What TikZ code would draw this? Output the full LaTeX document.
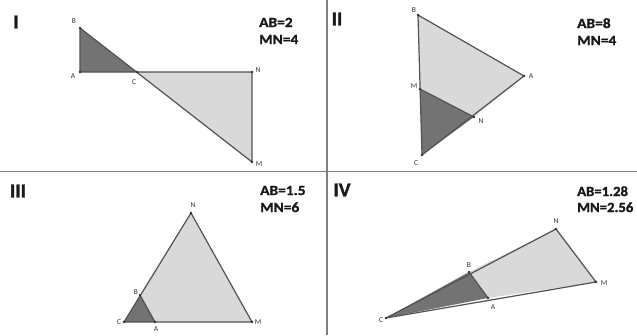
\documentclass[tikz,border=0pt]{standalone}
\usepackage{fontspec}
\setmainfont{Carlito}
\newfontfamily\heavyfont{Carlito Bold}[FakeBold=1.3]
\begin{document}
\begin{tikzpicture}[x=1pt,y=-1pt,
  edge/.style={draw=black!68,line width=1.2pt,line join=round},
  darkfill/.style={fill=black!55},
  lightfill/.style={fill=black!15},
  divider/.style={draw=black!50,line width=1.3pt},
  vlabel/.style={font=\fontsize{7.5}{8}\selectfont,text=black!80,inner sep=0pt},
  dot/.style={circle,fill=black!80,inner sep=0pt,minimum size=2.6pt},
  info/.style={font=\heavyfont\fontsize{14}{16}\selectfont,anchor=base west,inner sep=0pt,text=black!90},
  roman/.style={font=\heavyfont\fontsize{20}{22}\selectfont,inner sep=0pt,text=black!90}]
\useasboundingbox (0,0) rectangle (637,335);
\fill[white] (0,0) rectangle (637,335);
% dividers
\coordinate (vt) at (327,0); \coordinate (vb) at (327,335);
\coordinate (hl) at (0,171.5); \coordinate (hr) at (637,171.5);
\draw[divider] (vt) -- (vb);
\draw[divider] (hl) -- (hr);
% ---------- Panel I ----------
\coordinate (IB) at (80,28); \coordinate (IA) at (80,72); \coordinate (IC) at (137,72);
\coordinate (IN) at (252,72); \coordinate (IM) at (252,162);
\path[darkfill] (IA) -- (IB) -- (IC) -- cycle;
\path[lightfill] (IC) -- (IN) -- (IM) -- cycle;
\draw[edge] (IB) -- (IA) -- (IN) -- (IM) -- cycle;
\foreach \p in {IB,IA,IC,IN,IM} \node[dot] (d\p) at (\p) {};
\node[vlabel] (lIB) at (74,21) {B};
\node[vlabel] (lIA) at (73,76) {A};
\node[vlabel] (lIC) at (134,82) {C};
\node[vlabel] (lIN) at (258,70) {N};
\node[vlabel] (lIM) at (259,164) {M};
\node[roman] (rI) at (16,22) {I};
\node[info] (abI) at (259,27) {\scalebox{1.1}[1]{AB=2}};
\node[info] (mnI) at (259,44) {\scalebox{1.1}[1]{MN=4}};
% ---------- Panel II ----------
\coordinate (IIB) at (418,15); \coordinate (IIA) at (524,76); \coordinate (IIM) at (420,89);
\coordinate (IIN) at (474,117); \coordinate (IIC) at (422,155);
\path[lightfill] (IIB) -- (IIA) -- (IIN) -- (IIM) -- cycle;
\path[darkfill] (IIM) -- (IIN) -- (IIC) -- cycle;
\draw[edge] (IIB) -- (IIA) -- (IIC) -- cycle;
\draw[edge] (IIM) -- (IIN);
\foreach \p in {IIB,IIA,IIM,IIN,IIC} \node[dot] (d\p) at (\p) {};
\node[vlabel] (lIIB) at (414,10) {B};
\node[vlabel] (lIIA) at (531,76) {A};
\node[vlabel] (lIIM) at (414,86) {M};
\node[vlabel] (lIIN) at (481,121) {N};
\node[vlabel] (lIIC) at (416,163) {C};
\node[roman] (rII) at (337,19) {II};
\node[info] (abII) at (577,28) {\scalebox{1.1}[1]{AB=8}};
\node[info] (mnII) at (577,45) {\scalebox{1.1}[1]{MN=4}};
% ---------- Panel III ----------
\coordinate (IIIN) at (191,213); \coordinate (IIIB) at (140,295); \coordinate (IIIC) at (124,322);
\coordinate (IIIA) at (155,322); \coordinate (IIIM) at (252,322);
\path[lightfill] (IIIB) -- (IIIN) -- (IIIM) -- (IIIA) -- cycle;
\path[darkfill] (IIIC) -- (IIIB) -- (IIIA) -- cycle;
\draw[edge] (IIIC) -- (IIIN) -- (IIIM) -- cycle;
\draw[edge] (IIIB) -- (IIIA);
\foreach \p in {IIIN,IIIB,IIIC,IIIA,IIIM} \node[dot] (d\p) at (\p) {};
\node[vlabel] (lIIIN) at (193,205) {N};
\node[vlabel] (lIIIB) at (136,292) {B};
\node[vlabel] (lIIIC) at (119,322) {C};
\node[vlabel] (lIIIA) at (156,329) {A};
\node[vlabel] (lIIIM) at (258,322) {M};
\node[roman] (rIII) at (18,191) {III};
\node[info] (abIII) at (260,195) {\scalebox{1.1}[1]{AB=1.5}};
\node[info] (mnIII) at (260,212) {\scalebox{1.1}[1]{MN=6}};
% ---------- Panel IV ----------
\coordinate (IVN) at (556,229); \coordinate (IVB) at (469,272); \coordinate (IVM) at (596,282);
\coordinate (IVA) at (488,298); \coordinate (IVC) at (386,318);
\path[lightfill] (IVB) -- (IVN) -- (IVM) -- (IVA) -- cycle;
\path[darkfill] (IVC) -- (IVB) -- (IVA) -- cycle;
\draw[edge] (IVC) -- (IVN) -- (IVM) -- cycle;
\draw[edge] (IVB) -- (IVA);
\foreach \p in {IVN,IVB,IVM,IVA,IVC} \node[dot] (d\p) at (\p) {};
\node[vlabel] (lIVN) at (556,221) {N};
\node[vlabel] (lIVB) at (469,265) {B};
\node[vlabel] (lIVM) at (604,283) {M};
\node[vlabel] (lIVA) at (493,307) {A};
\node[vlabel] (lIVC) at (381,320) {C};
\node[roman] (rIV) at (342,190) {IV};
\node[info] (abIV) at (577,196) {\scalebox{1.05}[1]{AB=1.28}};
\node[info] (mnIV) at (577,212) {\scalebox{1.05}[1]{MN=2.56}};
\end{tikzpicture}
\end{document}
